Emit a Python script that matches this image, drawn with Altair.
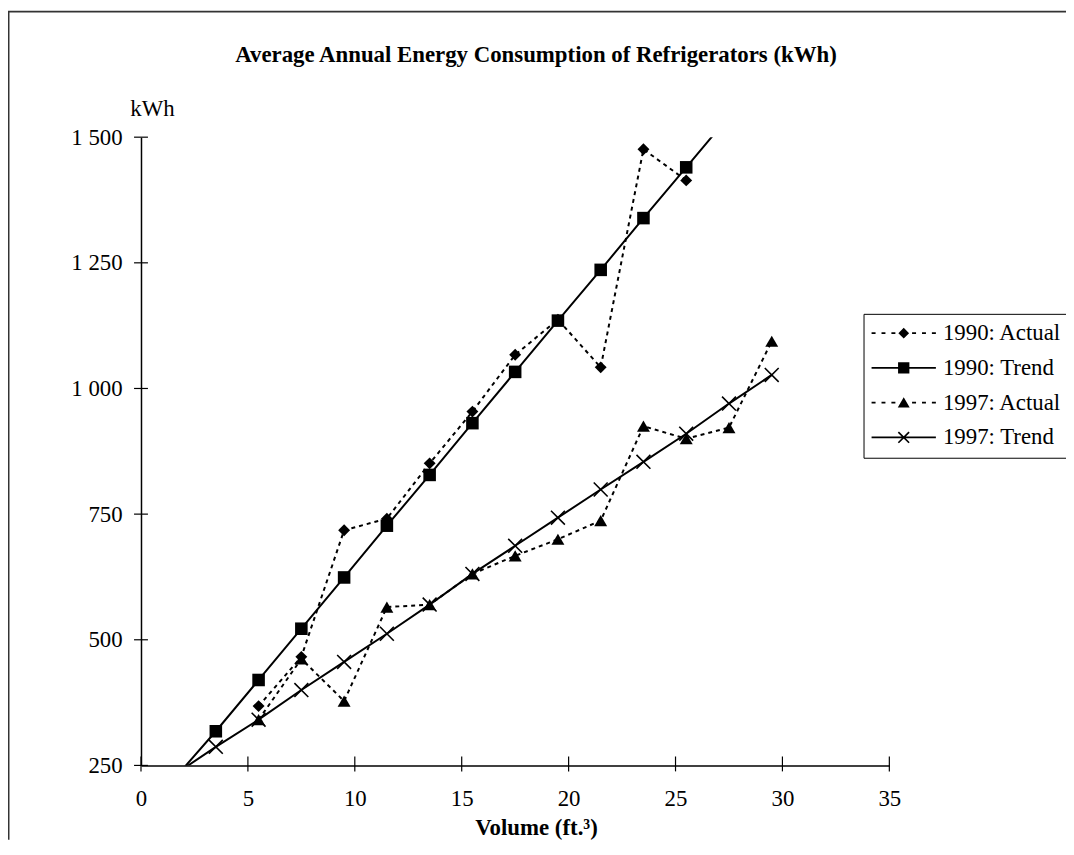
import altair as alt
import pandas as pd

TITLE = "Average Annual Energy Consumption of Refrigerators (kWh)"
X_TITLE = "Volume (ft.³)"
Y_TITLE = "kWh"
SERIES = ["1990: Actual", "1990: Trend", "1997: Actual", "1997: Trend"]

X_TICKS = [0, 5, 10, 15, 20, 25, 30, 35]
Y_TICKS = [250, 500, 750, 1000, 1250, 1500]

# 1990 actual
vol_1990_actual = [5.5, 7.5, 9.5, 11.5, 13.5, 15.5, 17.5, 19.5, 21.5, 23.5, 25.5]
kwh_1990_actual = [368, 466, 718, 741, 851, 954, 1067, 1137, 1042, 1476, 1414]

# 1990 trend (markers) and trend-line extension ends
vol_1990_trend = [3.5, 5.5, 7.5, 9.5, 11.5, 13.5, 15.5, 17.5, 19.5, 21.5, 23.5, 25.5]
kwh_1990_trend = [318, 420, 522, 624, 727, 828, 931, 1033, 1135, 1236, 1339, 1440]
vol_1990_trend_ends = [2.0, 27.0]
kwh_1990_trend_ends = [245, 1516]

# 1997 actual
vol_1997_actual = [5.5, 7.5, 9.5, 11.5, 13.5, 15.5, 17.5, 19.5, 21.5, 23.5, 25.5, 27.5, 29.5]
kwh_1997_actual = [341, 462, 378, 565, 570, 631, 667, 700, 737, 925, 900, 922, 1094]

# 1997 trend (markers) and trend-line extension start
vol_1997_trend = [3.5, 5.5, 7.5, 9.5, 11.5, 13.5, 15.5, 17.5, 19.5, 21.5, 23.5, 25.5, 27.5, 29.5]
kwh_1997_trend = [287, 341, 400, 456, 512, 570, 631, 687, 743, 799, 854, 910, 970, 1027]
vol_1997_trend_ends = [2.0]
kwh_1997_trend_ends = [244]

FONT = "Liberation Serif"
FS = 23
W, H = 754, 633

line_rows, pt_rows = [], []
def add(series, vols, kwhs, ends_v=(), ends_k=()):
    for v, k in zip(vols, kwhs):
        pt_rows.append({"vol": v, "kwh": k, "series": series})
        line_rows.append({"vol": v, "kwh": k, "series": series})
    for v, k in zip(ends_v, ends_k):
        line_rows.append({"vol": v, "kwh": k, "series": series})

add("1990: Actual", vol_1990_actual, kwh_1990_actual)
add("1990: Trend", vol_1990_trend, kwh_1990_trend, vol_1990_trend_ends, kwh_1990_trend_ends)
add("1997: Actual", vol_1997_actual, kwh_1997_actual)
add("1997: Trend", vol_1997_trend, kwh_1997_trend, vol_1997_trend_ends, kwh_1997_trend_ends)

df_line = pd.DataFrame(line_rows)
df_pts = pd.DataFrame(pt_rows)

xscale = alt.Scale(domain=[0, 35], nice=False, zero=False)
yscale = alt.Scale(domain=[250, 1500], nice=False, zero=False)

X = alt.X("vol:Q", scale=xscale, axis=alt.Axis(
    values=X_TICKS, ticks=False, tickSize=0, labelPadding=22, grid=False,
    labelFlush=False, labelOverlap=False,
    title=X_TITLE, titleX=398, titleY=70, titleAlign="center",
    titleBaseline="alphabetic", titleFontWeight="bold"))
Y = alt.Y("kwh:Q", scale=yscale, axis=alt.Axis(
    values=Y_TICKS, ticks=False, tickSize=0, labelPadding=19, grid=False,
    labelExpr="replace(format(datum.value, ','), ',', ' ')",
    title=Y_TITLE, titleAngle=0, titleX=11, titleY=-22, titleAlign="center",
    titleBaseline="alphabetic", titleFontWeight="normal"))

X_PATH = "M-1,-1L1,1M-1,1L1,-1"
styles = {
    "1990: Actual": dict(dash=[4, 4], shape="diamond", size=144, filled=True),
    "1990: Trend": dict(dash=None, shape="square", size=160, filled=True),
    "1997: Actual": dict(dash=[4, 4], shape="triangle-up", size=170, filled=True),
    "1997: Trend": dict(dash=None, shape=X_PATH, size=196, filled=False),
}

layers = []
for s in SERIES:
    st = styles[s]
    lk = dict(clip=True, color="black", strokeWidth=2)
    if st["dash"]:
        lk["strokeDash"] = st["dash"]
    layers.append(
        alt.Chart(df_line).transform_filter(alt.datum.series == s)
        .mark_line(**lk).encode(x=X, y=Y, order="vol:Q")
    )
    if st["filled"]:
        pm = alt.Chart(df_pts).transform_filter(alt.datum.series == s).mark_point(
            shape=st["shape"], size=st["size"], filled=True, color="black", opacity=1)
    else:
        pm = alt.Chart(df_pts).transform_filter(alt.datum.series == s).mark_point(
            shape=st["shape"], size=st["size"], filled=False, color="black",
            strokeWidth=1.6, opacity=1)
    layers.append(pm.encode(x=X, y=Y))

# crossing tick marks
ytick = alt.Chart(pd.DataFrame({"kwh": Y_TICKS})).mark_rule(color="black", strokeWidth=1.2).encode(
    y=alt.Y("kwh:Q", scale=yscale), x=alt.value(-7), x2=alt.value(7))
xtick = alt.Chart(pd.DataFrame({"vol": X_TICKS})).mark_rule(color="black", strokeWidth=1.2).encode(
    x=alt.X("vol:Q", scale=xscale), y=alt.value(H - 9), y2=alt.value(H + 6))

# chart-area frame (top and left edges visible)
one = pd.DataFrame({"a": [0]})
frame_top = alt.Chart(one).mark_rule(color="#333333", strokeWidth=2).encode(
    x=alt.value(-134), x2=alt.value(940), y=alt.value(-126.5))
frame_left = alt.Chart(one).mark_rule(color="#333333", strokeWidth=2).encode(
    x=alt.value(-133.5), y=alt.value(-127), y2=alt.value(708))

# chart title as text
title_mark = alt.Chart(one).mark_text(
    text=TITLE, font=FONT, fontSize=FS, fontWeight="bold", color="black",
    align="center", baseline="alphabetic"
).encode(x=alt.value(398), y=alt.value(-76))

# legend symbols (line + marker), drawn as filled outlines
T = 0.15
def seg(x1, x2):
    return f"M{x1},{-T}L{x2},{-T}L{x2},{T}L{x1},{T}Z"
DASHED = "".join(seg(a, b) for a, b in [(-5.4, -4.73), (-3.73, -3.07), (-2.07, -1.4),
                                         (1.4, 2.07), (3.07, 3.73), (4.73, 5.4)])
SOLID = seg(-5.4, 5.4)
X_FILLED = ("M-1,-0.8L-0.8,-1L1,0.8L0.8,1Z"
            "M-1,0.8L0.8,-1L1,-0.8L-0.8,1Z")
LEGEND_PATHS = [
    DASHED + "M0,-0.9L0.9,0L0,0.9L-0.9,0Z",
    SOLID + "M-0.95,-0.95L0.95,-0.95L0.95,0.95L-0.95,0.95Z",
    DASHED + "M0,-0.9L1,0.8L-1,0.8Z",
    SOLID + X_FILLED,
]
legend_layer = alt.Chart(df_pts).transform_filter("false").mark_point(
    filled=True, color="black", size=144, opacity=1
).encode(
    x=X, y=Y,
    shape=alt.Shape("series:N", scale=alt.Scale(domain=SERIES, range=LEGEND_PATHS),
                    legend=alt.Legend(
                        orient="none", legendX=728, legendY=178, title=None,
                        labelFont=FONT, labelFontSize=FS, labelColor="black",
                        labelLimit=400, symbolSize=144, symbolOffset=21, labelOffset=28,
                        rowPadding=11, padding=8, strokeColor="black", fillColor="white",
                        symbolFillColor="black", symbolOpacity=1)),
)

chart = alt.layer(frame_top, frame_left, title_mark, *layers, ytick, xtick, legend_layer).properties(
    width=W, height=H,
    padding={"left": 134, "top": 127, "right": 178, "bottom": 74},
    autosize=alt.AutoSizeParams(type="none"),
    background="white",
).configure_view(stroke=None).configure_axis(
    labelFont=FONT, labelFontSize=FS, labelColor="black",
    titleFont=FONT, titleFontSize=FS, titleColor="black",
    domainColor="black", domainWidth=1.5,
)

chart.save("out.html", embed_options={"renderer": "svg", "actions": False})
